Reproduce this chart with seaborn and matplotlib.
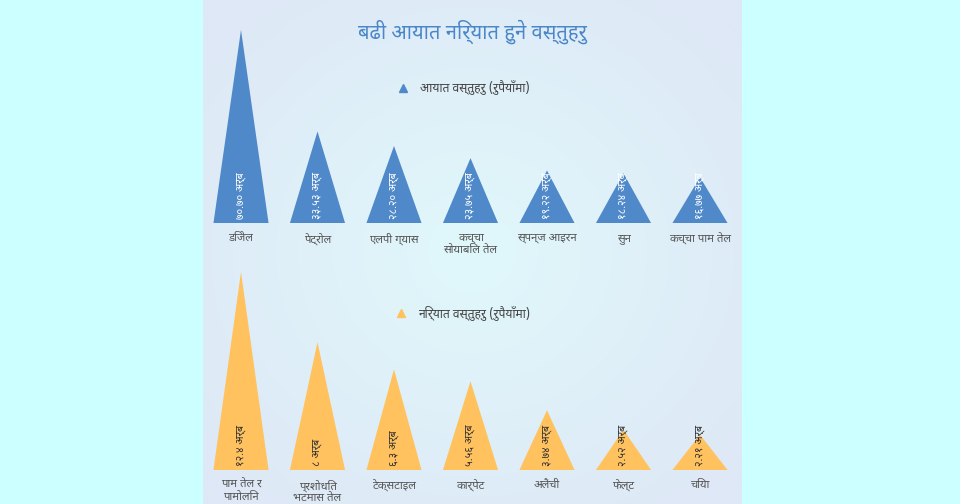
import numpy as np
import pandas as pd
import matplotlib
matplotlib.use("Agg")
import matplotlib.pyplot as plt
import seaborn as sns
from matplotlib import font_manager as fm
from matplotlib.ft2font import FT2Font
from matplotlib.patches import Polygon
from matplotlib.lines import Line2D

# data
import_items = ['डिजेल', 'पेट्रोल', 'एलपी ग्यास', 'कच्चा\nसोयाबिल तेल',
                'स्पन्ज आइरन', 'सुन', 'कच्चा पाम तेल']
import_values = [70.70, 33.53, 28.20, 23.75, 19.22, 18.24, 16.77]
export_items = ['पाम तेल र\nपामोलिन', 'प्रशोधित\nभटमास तेल', 'टेक्सटाइल', 'कार्पेट',
                'अलैंची', 'फेल्ट', 'चिया']
export_values = [12.4, 8.0, 6.3, 5.56, 3.74, 2.52, 2.21]

TITLE = 'बढी आयात निर्यात हुने वस्तुहरु'
IMPORT_LEGEND = 'आयात वस्तुहरु (रुपैयाँमा)'
EXPORT_LEGEND = 'निर्यात वस्तुहरु (रुपैयाँमा)'

BLUE, ORANGE = '#4f89c9', '#ffc25e'
DEV_DIGITS = str.maketrans('0123456789', '०१२३४५६७८९')

sns.set_theme(style="white")

# find installed fonts with Devanagari glyphs, prefer Noto Sans Devanagari
dev_fonts = set()
for f in fm.fontManager.ttflist:
    try:
        if 0x0915 in FT2Font(f.fname).get_charmap():
            dev_fonts.add(f.name)
    except Exception:
        pass
dev_fonts = sorted(dev_fonts, key=lambda n: (n != 'Noto Sans Devanagari', 'UI' in n, n))
plt.rcParams['font.family'] = dev_fonts + ['DejaVu Sans']

fig = plt.figure(figsize=(9.6, 5.04), dpi=100, facecolor='#ccffff')

# panel background with a soft radial gradient
bg = fig.add_axes([203 / 960, 0, 539 / 960, 1])
yy, xx = np.mgrid[-1:1:200j, -1:1:200j]
r = np.clip(np.sqrt(xx ** 2 + yy ** 2) / 1.3, 0, 1)[..., None]
c0 = np.array([224, 248, 251]) / 255
c1 = np.array([222, 232, 246]) / 255
bg.imshow(c0 * (1 - r) + c1 * r, aspect='auto', extent=[0, 1, 0, 1])
bg.axis('off')

fig.text(0.492, 0.937, TITLE, ha='center', va='center', fontsize=14.5, color='#4a86c8')


def triangle_chart(rect, items, values, color, ymax, text_color, legend, leg_y):
    ax = fig.add_axes(rect)
    df = pd.DataFrame({'item': items, 'value': values})
    sns.barplot(data=df, x='item', y='value', color=color, width=0.72, ax=ax)
    for p in list(ax.patches):
        x0, w, h = p.get_x(), p.get_width(), p.get_height()
        p.set_visible(False)
        ax.add_patch(Polygon([(x0, 0), (x0 + w / 2, h), (x0 + w, 0)],
                             closed=True, facecolor=color, edgecolor='none'))
    for i, v in enumerate(values):
        txt = (f'{v:.2f}' if v >= 10 and color == BLUE else f'{v:g}').translate(DEV_DIGITS)
        ax.text(i, ymax * 0.02, f'{txt} अर्ब', rotation=90, ha='center', va='bottom',
                fontsize=7.8, color=text_color)
    ax.set_xlim(-0.5, len(items) - 0.5)
    ax.set_ylim(0, ymax)
    ax.set_facecolor('none')
    ax.set(xlabel='', ylabel='', yticks=[])
    ax.tick_params(axis='x', length=0, pad=7, labelsize=8.2, labelcolor='#555555')
    for lbl in ax.get_xticklabels():
        lbl.set_linespacing(1.2)
    sns.despine(ax=ax, left=True, bottom=True)
    handle = Line2D([], [], marker='^', ls='', color=color, markersize=6)
    fig.legend([handle], [legend], loc='center', bbox_to_anchor=(0.479, leg_y),
               frameon=False, fontsize=8.7, handletextpad=0.4, labelcolor='#444444')
    return ax


triangle_chart([202.75 / 960, 1 - 223 / 504, 535.5 / 960, 204.8 / 504],
               import_items, import_values, BLUE, 75, 'white', IMPORT_LEGEND, 1 - 88 / 504)
triangle_chart([202.75 / 960, 1 - 470 / 504, 535.5 / 960, 207.6 / 504],
               export_items, export_values, ORANGE, 13, '#333333', EXPORT_LEGEND, 1 - 313 / 504)

fig.savefig('out.png', dpi=100, facecolor=fig.get_facecolor())
